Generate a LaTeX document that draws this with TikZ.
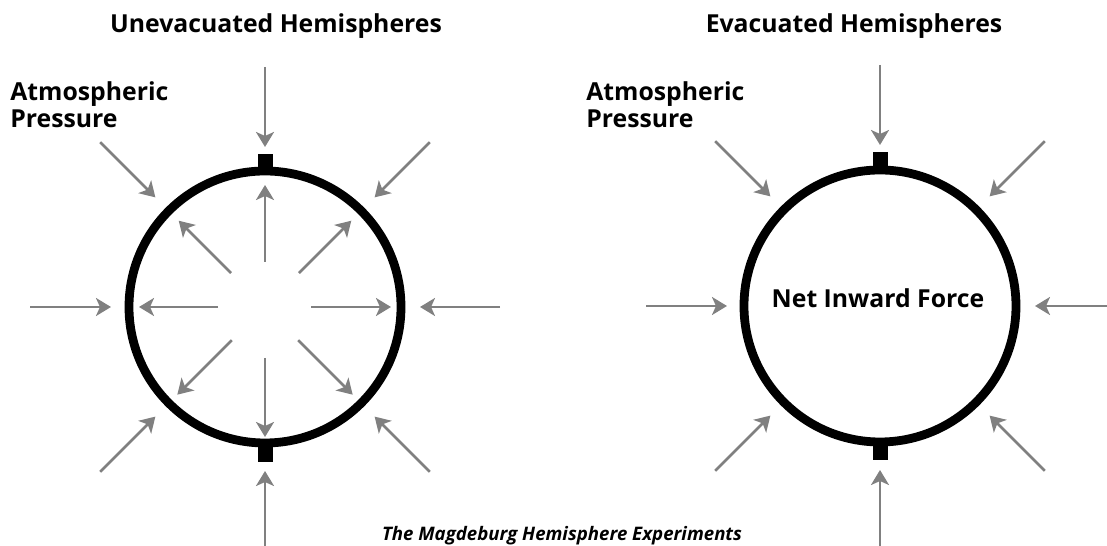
\documentclass[tikz,border=0pt]{standalone}
\usepackage{fontspec}
\setmainfont{Open Sans}
\usepackage{xcolor}
\usepackage{tikz}
\usetikzlibrary{arrows.meta,calc}

\definecolor{forcegray}{RGB}{128,128,128}

\begin{document}
\begin{tikzpicture}[x=0.02cm,y=-0.02cm,
		force/.style={draw=forcegray,line width=1.5pt,-{Stealth[length=0.3cm,width=0.36cm,inset=0.08cm]}},
		rim/.style={draw=black,line width=5pt},
		plug/.style={fill=black},
		title/.style={font=\bfseries\fontsize{14.1}{15.4}\selectfont,anchor=base}]
		\useasboundingbox (0,0) rectangle (1107,546);
		\clip (0,0) rectangle (1107,546);

		\coordinate (lc) at (265,307);
		\coordinate (rc) at (880,306);

		% hemispheres
		\draw[rim] (lc) circle[radius=136];
		\draw[rim] (rc) circle[radius=136];
		\fill[plug] ($(lc)+(-7.5,-153)$) rectangle ($(lc)+(7.5,-135)$);
		\fill[plug] ($(lc)+(-7.5,135)$) rectangle ($(lc)+(7.5,155)$);
		\fill[plug] ($(rc)+(-7.5,-154)$) rectangle ($(rc)+(7.5,-134)$);
		\fill[plug] ($(rc)+(-7.5,134)$) rectangle ($(rc)+(7.5,154)$);

		% air pressing from outside, left
		\draw[force,shift={(lc)}] (270:240) -- (270:160);
		\draw[force,shift={(lc)}] (90:240) -- (90:164);
		\draw[force,shift={(lc)}] (0:235) -- (0:155);
		\draw[force,shift={(lc)}] (180:235) -- (180:154);
		\draw[force,shift={(lc)}] (45:233) -- (45:155);
		\draw[force,shift={(lc)}] (135:233) -- (135:155);
		\draw[force,shift={(lc)}] (225:233) -- (225:155);
		\draw[force,shift={(lc)}] (315:233) -- (315:155);

		% air pushing from inside, left
		\draw[force,shift={(lc)}] (270:45) -- (270:122);
		\draw[force,shift={(lc)}] (90:51) -- (90:130);
		\draw[force,shift={(lc)}] (0:46) -- (0:126);
		\draw[force,shift={(lc)}] (180:47) -- (180:126);
		\draw[force,shift={(lc)}] (45:47) -- (45:124);
		\draw[force,shift={(lc)}] (135:47) -- (135:124);
		\draw[force,shift={(lc)}] (225:48) -- (225:122);
		\draw[force,shift={(lc)}] (315:48) -- (315:122);

		% air pressing from outside, right
		\draw[force,shift={(rc)}] (270:241) -- (270:161);
		\draw[force,shift={(rc)}] (90:241) -- (90:164);
		\draw[force,shift={(rc)}] (0:240) -- (0:155);
		\draw[force,shift={(rc)}] (180:234) -- (180:153);
		\draw[force,shift={(rc)}] (45:233) -- (45:155);
		\draw[force,shift={(rc)}] (135:233) -- (135:155);
		\draw[force,shift={(rc)}] (225:233) -- (225:155);
		\draw[force,shift={(rc)}] (315:233) -- (315:155);

		\node[title] (unevac) at (276,33) {Unevacuated Hemispheres};
		\node[title] (evac) at (854,33) {Evacuated Hemispheres};
		\node[title,anchor=base west,align=left,inner sep=0pt] (atmL) at (10,128) {Atmospheric\\Pressure};
		\node[title,anchor=base west,align=left,inner sep=0pt] (atmR) at (586,128) {Atmospheric\\Pressure};
		\node[title] (net) at (878,308) {Net Inward Force};
		\node[font=\bfseries\itshape\fontsize{10.6}{12}\selectfont,anchor=base] (caption) at (562,541) {The Magdeburg Hemisphere Experiments};
	\end{tikzpicture}
\end{document}
